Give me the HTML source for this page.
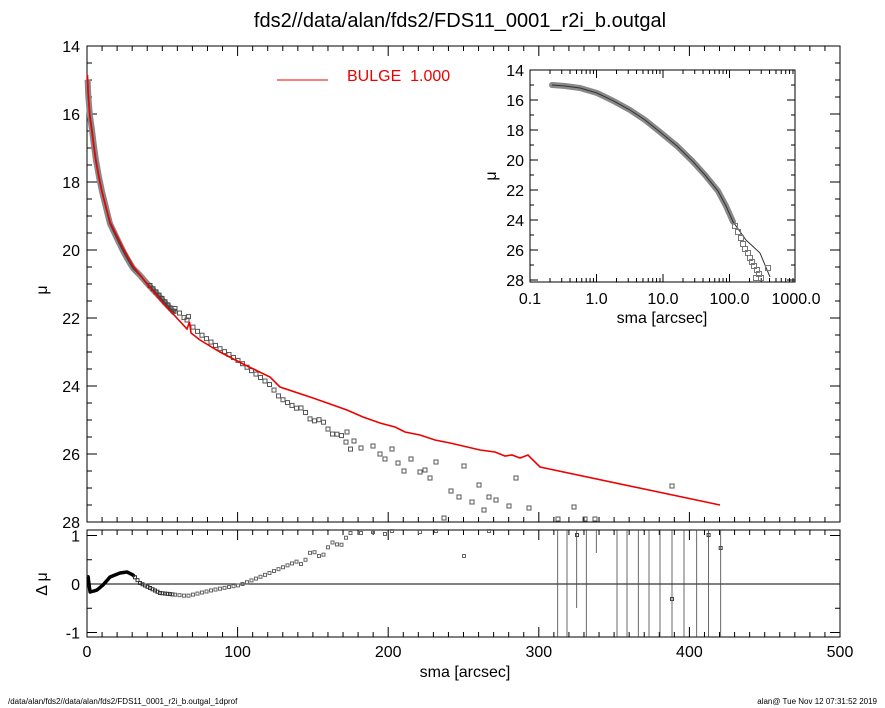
<!DOCTYPE html>
<html><head><meta charset="utf-8"><style>
html,body{margin:0;padding:0;background:#fff;}
svg{display:block;font-family:"Liberation Sans",sans-serif;}
</style></head><body>
<svg id="s" width="885" height="708" xmlns="http://www.w3.org/2000/svg">
<rect width="885" height="708" fill="#fff"/>
<text x="460" y="27" font-size="20" text-anchor="middle">fds2//data/alan/fds2/FDS11_0001_r2i_b.outgal</text>
<text x="8" y="704" font-size="8">/data/alan/fds2//data/alan/fds2/FDS11_0001_r2i_b.outgal_1dprof</text>
<text x="877" y="704" font-size="8" text-anchor="end">alan@  Tue Nov 12 07:31:52 2019</text>
<g id="g"></g>
</svg>
<script>
var g=document.getElementById('g'),h='';
function X(r){return 87+r*1.506;}
function Y(m){return 46+(m-14)*34;}
function RY(d){return 584-d*48.5;}
function ln(x1,y1,x2,y2,c,w){h+='<line x1="'+x1+'" y1="'+y1+'" x2="'+x2+'" y2="'+y2+'" stroke="'+(c||'#000')+'" stroke-width="'+(w||1)+'"/>';}
function tx(x,y,t,s,a,c){h+='<text x="'+x+'" y="'+y+'" font-size="'+s+'" text-anchor="'+(a||'middle')+'" fill="'+(c||'#000')+'">'+t+'</text>';}
function sq(x,y,s,c){h+='<rect x="'+(x-s/2)+'" y="'+(y-s/2)+'" width="'+s+'" height="'+s+'" fill="none" stroke="'+(c||'#555')+'" stroke-width="1"/>';}
function interp(P,x){if(x<=P[0][0])return P[0][1];for(var i=1;i<P.length;i++){if(x<=P[i][0]){var a=P[i-1],b=P[i];return a[1]+(b[1]-a[1])*(x-a[0])/(b[0]-a[0]);}}return P[P.length-1][1];}
h+='<rect x="87" y="46" width="753" height="476" fill="none" stroke="#000"/>';
h+='<rect x="87" y="530" width="753" height="107" fill="none" stroke="#000"/>';
for(var r=0;r<=500;r+=10){var x=X(r),L=(r%100==0)?10:5;ln(x,522,x,522-L);ln(x,46,x,46+L);ln(x,637,x,637-L);ln(x,530,x,530+L);}
for(r=0;r<=500;r+=100)tx(X(r),657,r,16);
for(var m=14;m<=28;m+=0.5){var y=Y(m),L=(m%2==0)?10:5;ln(87,y,87+L,y);ln(840,y,840-L,y);if(m%2==0)tx(80,y+6,m,16,'end');}
[-1,-0.5,0,0.5,1].forEach(function(d){var y=RY(d),L=(d%1==0)?10:5;ln(87,y,87+L,y);ln(840,y,840-L,y);if(d%1==0)tx(80,y+6,d,16,'end');});
tx(465,677,'sma [arcsec]',16);
h+='<text x="47" y="290" font-size="16" text-anchor="middle" transform="rotate(-90 47 290)">μ</text>';
h+='<text x="47" y="584" font-size="16" text-anchor="middle" transform="rotate(-90 47 584)">Δ μ</text>';
ln(87,584,840,584,'#000',1);
var red=[[87.5,75],[88,90],[89,105],[90,118],[92,132],[94,148],[96,162],[99,178],[102,192],[106,207],[110,222],[116,234],[123,248],[133,266],[147,284],[163,303],[187,329],[189.5,322],[191,333],[200,340],[220,352],[245,365],[270,377],[280,387],[313,398],[347,410],[363,417],[380,423],[395,427],[405,432],[420,435],[435,440],[450,443],[463,446],[480,450],[495,452],[505,456],[512,455],[520,458],[528,455],[540,467],[720,505]];
var pr='';red.forEach(function(p){pr+=p[0]+','+p[1]+' ';});
var rp=[[87,578],[88,576],[90,592],[94,591],[97,590],[103,585],[110,577],[120,573],[127,572],[133,575],[140,583],[160,593],[187,596],[213,590],[240,585],[260,577],[293,563],[327,550],[353,533]];
function resid(x){return (584-interp(rp,x))/48.5;}
var dense='',rd='';
for(var x=87.6;x<175;x+=0.6){dense+=x+','+(interp(red,x)+resid(x)*12)+' ';}
for(x=87.6;x<135;x+=0.5){rd+=x+','+interp(rp,x)+' ';}
h+='<polyline points="'+dense+'" fill="none" stroke="#888" stroke-width="6" stroke-linejoin="round"/>';
h+='<polyline points="'+dense+'" fill="none" stroke="#444" stroke-width="1.5"/>';
h+='<polyline points="'+rd+'" fill="none" stroke="#000" stroke-width="3.5" stroke-linejoin="round"/>';
for(x=135;x<175;x+=2.5){sq(x,interp(rp,x),3,'#333');}
for(x=150;x<175;x+=3){sq(x,interp(red,x)+resid(x)*12-1,4,'#444');}
sq(187,320,4);
var pts=[];
for(x=175;x<355;x+=4.5){var j=(x>300)?((Math.sin(x*7.3))*3):0;pts.push([x,interp(red,x)+resid(x)*34+j,interp(rp,x)-j*1.4]);}
pts.forEach(function(p){sq(p[0],p[1],4);sq(p[0],Math.max(p[2],533),3,'#666');});
var sc=[[347,432],[354,441],[361,448],[373,446],[380,454],[385,459],[392,449],[398,463],[404,471],[411,459],[420,472],[425,470],[430,478],[436,462],[444,518],[451,491],[459,497],[464,466],[472,502],[479,485],[484,510],[489,497],[496,500],[509,506],[516,478],[529,508],[558,519],[574,507],[585,519],[595,519],[672,486]];
sc.forEach(function(p){sq(p[0],p[1],4);});
[[361,533],[373,532],[385,534],[392,531],[420,532],[436,531],[464,556],[489,531]].forEach(function(p){sq(p[0],p[1],3,'#666');});
h+='<polyline points="'+pr+'" fill="none" stroke="#e00" stroke-width="1.6"/>';
[[557.7,530,637],[567,530,637],[576.7,530,608],[586.3,530,637],[596.3,530,553],[617,530,637],[627,530,637],[638.3,530,637],[649,530,637],[660,530,637],[672,530,637],[684,530,637],[696.7,530,637],[708.6,530,637],[720.7,530,637]].forEach(function(l){ln(l[0],l[1],l[0],l[2],'#444',0.8);});
sq(577,535,3,'#444');sq(672,599,3,'#444');sq(708.6,535,3,'#444');sq(720.7,548,3,'#444');
ln(277,80,328,80,'#e00',1);
tx(347,81,'BULGE&#160;&#160;1.000',16,'start','#e00');
function IX(r){return 530+(Math.log10(r)+1)*66.5;}
function IY(m){return 70+(m-14)*15;}
h+='<rect x="530" y="70" width="265" height="212" fill="#fff" stroke="#000"/>';
for(var d=-1;d<3;d++){for(var k=1;k<10;k++){var xx=IX(k*Math.pow(10,d));var L=(k==1)?8:4;ln(xx,282,xx,282-L);ln(xx,70,xx,70+L);}}
ln(795,282,795,274);ln(795,70,795,78);
['0.1','1.0','10.0','100.0','1000.0'].forEach(function(t,i){tx(530+i*66.5,304,t,16);});
for(m=14;m<=28;m+=1){var y=IY(m),L=(m%2==0)?8:4;ln(530,y,530+L,y);ln(795,y,795-L,y);if(m%2==0)tx(524,y+6,m,16,'end');}
tx(662,323,'sma [arcsec]',16);
h+='<text x="496" y="176" font-size="16" text-anchor="middle" transform="rotate(-90 496 176)">μ</text>';
var id=[[552,85],[565,86],[580,88],[597,93],[613,100.7],[630,110],[645,120],[660,132],[677,146],[693,161.7],[705,175],[718,191],[726,206],[733,221.7]];
var s1='';id.forEach(function(p){s1+=p[0]+','+p[1]+' ';});
h+='<polyline points="'+s1+'" fill="none" stroke="#888" stroke-width="6" stroke-linejoin="round" stroke-linecap="round"/>';
h+='<polyline points="'+s1+' 746,240 760,253 770,277" fill="none" stroke="#333" stroke-width="1"/>';
[[735,226],[738,232],[741,238],[743,244],[745,249],[748,253],[750,258],[752,262],[754,266],[757,270],[759,274],[756,278],[761,278],[768,268]].forEach(function(p){sq(p[0],p[1],5,'#777');});
g.innerHTML=h;
</script>
</body></html>
